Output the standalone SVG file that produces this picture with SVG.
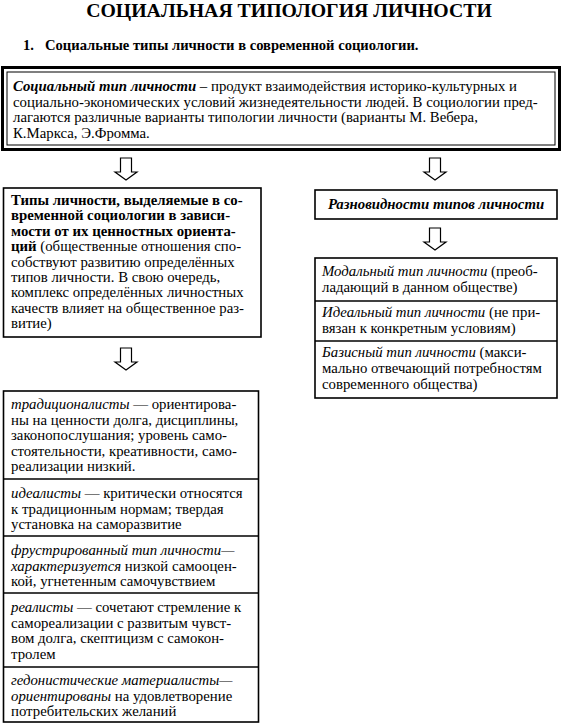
<svg xmlns="http://www.w3.org/2000/svg" width="562" height="727" viewBox="0 0 562 727">
<style>
text{font-family:"Liberation Serif","Times New Roman",serif;fill:#000}
.t{font-size:14.8px}
.b{font-weight:bold}
.i{font-style:italic}
.box{fill:#fff;stroke:#000;stroke-width:1.6}
.ln{stroke:#000;stroke-width:1.3}
.arr{fill:#fff;stroke:#000;stroke-width:1.2;stroke-linejoin:miter}
</style>
<defs>
<polygon id="ar" points="-5.5,0 5.5,0 5.5,14 11,14 0,22 -11,14 -5.5,14"/>
</defs>
<rect width="562" height="727" fill="#fff"/>
<text x="289" y="16.5" text-anchor="middle" class="b" font-size="19.8">СОЦИАЛЬНАЯ ТИПОЛОГИЯ ЛИЧНОСТИ</text>
<text y="50" class="b" font-size="14.6"><tspan x="23">1.</tspan><tspan x="45">Социальные типы личности в современной социологии.</tspan></text>

<g id="n_def">
<rect x="2.5" y="67.5" width="557" height="82" fill="#fff" stroke="#000" stroke-width="3"/>
<rect x="7" y="72" width="548" height="73" fill="none" stroke="#000" stroke-width="1"/>
<text class="t"><tspan x="13" y="91"><tspan class="b i">Социальный тип личности</tspan> – продукт взаимодействия историко-культурных и</tspan><tspan x="13" y="106.5">социально-экономических условий жизнедеятельности людей. В социологии пред-</tspan><tspan x="13" y="122">лагаются различные варианты типологии личности (варианты М. Вебера,</tspan><tspan x="13" y="137.5">К.Маркса, Э.Фромма.</tspan></text>
</g>

<g id="connectors">
<use href="#ar" class="arr" transform="translate(126,158)"/>
<use href="#ar" class="arr" transform="translate(435,158)"/>
<use href="#ar" class="arr" transform="translate(435,228)"/>
<use href="#ar" class="arr" transform="translate(126,348)"/>
</g>

<g id="n_left">
<rect x="3.5" y="188" width="257.5" height="149" class="box"/>
<text class="t"><tspan x="11" y="205" class="b">Типы личности, выделяемые в со-</tspan><tspan x="11" y="220.4" class="b">временной социологии в зависи-</tspan><tspan x="11" y="235.8" class="b">мости от их ценностных ориента-</tspan><tspan x="11" y="251.2"><tspan class="b">ций</tspan> (общественные отношения спо-</tspan><tspan x="11" y="266.6">собствуют развитию определённых</tspan><tspan x="11" y="282">типов личности. В свою очередь,</tspan><tspan x="11" y="297.4">комплекс определённых личностных</tspan><tspan x="11" y="312.8">качеств влияет на общественное раз-</tspan><tspan x="11" y="328.2">витие)</tspan></text>
</g>

<g id="n_kinds">
<rect x="315" y="190" width="242" height="29" class="box"/>
<text x="436" y="209" text-anchor="middle" class="t b i">Разновидности типов личности</text>
</g>

<g id="n_kinds_list">
<rect x="315" y="258" width="242" height="140" class="box"/>
<line x1="315" y1="301" x2="557" y2="301" class="ln"/>
<line x1="315" y1="341" x2="557" y2="341" class="ln"/>
<text class="t"><tspan x="322" y="276"><tspan class="i">Модальный тип личности</tspan> (преоб-</tspan><tspan x="322" y="292">ладающий в данном обществе)</tspan><tspan x="322" y="317"><tspan class="i">Идеальный тип личности</tspan> (не при-</tspan><tspan x="322" y="333">вязан к конкретным условиям)</tspan><tspan x="322" y="357"><tspan class="i">Базисный тип личности</tspan> (макси-</tspan><tspan x="322" y="373">мально отвечающий потребностям</tspan><tspan x="322" y="389">современного общества)</tspan></text>
</g>

<g id="n_types_list">
<rect x="3.5" y="391" width="255" height="331" class="box"/>
<line x1="3.5" y1="479" x2="258.5" y2="479" class="ln"/>
<line x1="3.5" y1="536" x2="258.5" y2="536" class="ln"/>
<line x1="3.5" y1="593" x2="258.5" y2="593" class="ln"/>
<line x1="3.5" y1="667" x2="258.5" y2="667" class="ln"/>
<text class="t"><tspan x="11" y="409"><tspan class="i">традиционалисты</tspan> — ориентирова-</tspan><tspan x="11" y="424.5">ны на ценности долга, дисциплины,</tspan><tspan x="11" y="440">законопослушания; уровень само-</tspan><tspan x="11" y="455.5">стоятельности, креативности, само-</tspan><tspan x="11" y="471">реализации низкий.</tspan></text>
<text class="t"><tspan x="11" y="498"><tspan class="i">идеалисты</tspan> — критически относятся</tspan><tspan x="11" y="513.5">к традиционным нормам; твердая</tspan><tspan x="11" y="529">установка на саморазвитие</tspan></text>
<text class="t"><tspan x="11" y="555"><tspan class="i">фрустрированный тип личности—</tspan></tspan><tspan x="11" y="570.5"><tspan class="i">характеризуется</tspan> низкой самооцен-</tspan><tspan x="11" y="586">кой, угнетенным самочувствием</tspan></text>
<text class="t"><tspan x="11" y="612"><tspan class="i">реалисты</tspan> — сочетают стремление к</tspan><tspan x="11" y="627.5">самореализации с развитым чувст-</tspan><tspan x="11" y="643">вом долга, скептицизм с самокон-</tspan><tspan x="11" y="658.5">тролем</tspan></text>
<text class="t"><tspan x="11" y="685"><tspan class="i">гедонистические материалисты—</tspan></tspan><tspan x="11" y="700.5"><tspan class="i">ориентированы</tspan> на удовлетворение</tspan><tspan x="11" y="716">потребительских желаний</tspan></text>
</g>
</svg>
